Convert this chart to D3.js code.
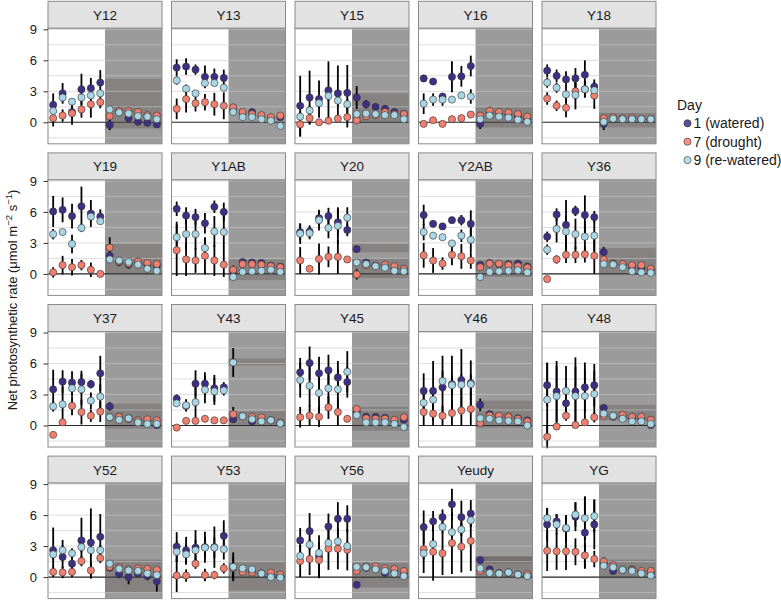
<!DOCTYPE html>
<html><head><meta charset="utf-8">
<script src="https://cdn.jsdelivr.net/npm/d3@7"></script>
<style>body{margin:0;background:#fff} svg{display:block} text{font-family:"Liberation Sans",Arial,Helvetica,sans-serif}</style>
</head><body><svg id="c" width="781" height="600"></svg>
<script>
const panelNames = ["Y12","Y13","Y15","Y16","Y18","Y19","Y1AB","Y20","Y2AB","Y36","Y37","Y43","Y45","Y46","Y48","Y52","Y53","Y56","Yeudy","YG"];
const dayLabels = ["1 (watered)","7 (drought)","9 (re-watered)"];
const dayColors = ["#3d2f83","#ef7f6f","#a9d6e5"];
const timePoints = [1,2,3,4,5,6,7,8,9,10,11,12];
const shadeStart = 6.5;
const yTicks = [0,3,6,9];
const yMinorTicks = [-1.5,1.5,4.5,7.5];

// Day 1 (watered) means, per panel
const day1 = [
 [1.7,2.8,1.0,3.2,3.3,3.85,-0.25,1.0,0.4,0.05,-0.05,-0.2],
 [5.3,5.4,5.1,4.4,4.4,4.3,1.2,0.9,1.0,0.6,0.4,0.5],
 [1.6,2.4,2.25,3.1,2.8,2.85,2.4,1.75,1.5,1.3,1.0,0.8],
 [4.25,3.95,2.5,4.4,4.45,5.45,-0.15,0.9,0.85,0.7,0.6,0.3],
 [5.0,4.5,4.15,4.25,4.6,3.45,-0.15,0.4,0.35,0.35,0.3,0.3],
 [6.05,6.2,5.6,6.55,5.85,5.55,1.75,1.15,0.9,1.0,0.9,0.8],
 [6.3,5.65,5.5,4.9,6.5,6.0,0.3,1.15,1.1,1.05,0.8,0.7],
 [4.05,4.1,5.4,5.6,5.0,4.25,2.4,1.1,0.8,0.7,0.5,0.4],
 [5.7,4.85,4.6,5.2,5.2,4.85,0.85,1.05,0.95,0.95,1.0,0.7],
 [3.6,5.75,4.75,6.1,5.7,5.5,2.1,1.0,0.9,0.7,0.6,0.4],
 [3.5,4.25,4.15,4.2,4.0,5.05,1.85,0.85,0.65,0.4,0.4,0.05],
 [2.6,1.9,4.05,4.05,3.6,3.7,0.6,0.9,0.4,0.6,0.5,0.25],
 [5.15,6.05,5.05,5.35,4.65,4.2,1.35,0.85,0.85,0.75,0.4,0.55],
 [3.35,3.35,3.7,4.0,4.4,4.1,2.0,1.1,0.9,0.85,0.7,0.5],
 [3.9,3.3,2.15,3.3,3.7,3.9,1.7,0.85,0.8,0.7,0.6,0.05],
 [2.6,1.95,1.3,3.55,3.35,3.9,0.9,0.3,0.0,0.35,0.1,-0.4],
 [2.95,2.6,2.85,2.9,2.9,4.0,0.9,0.7,0.6,0.35,0.2,0.1],
 [3.55,4.45,2.0,4.9,5.65,5.65,-0.75,0.9,0.8,0.4,0.5,0.3],
 [4.85,5.4,5.8,7.05,5.8,6.15,1.65,0.75,0.4,0.45,0.25,0.2],
 [5.1,5.4,4.7,5.85,4.3,5.1,1.3,0.6,0.7,0.75,0.5,0.4]
];
// Day 7 (drought) means
const day7 = [
 [0.4,0.65,0.87,1.25,1.75,1.95,0.6,1.1,1.1,1.0,0.7,0.65],
 [1.3,2.25,1.85,1.95,1.75,1.6,1.45,1.0,0.8,0.7,0.5,0.65],
 [-0.2,0.4,0.0,0.15,0.35,0.5,0.2,0.6,0.7,1.0,0.8,0.8],
 [-0.15,0.2,-0.15,0.3,0.4,0.75,0.65,1.1,1.0,0.95,0.8,0.55],
 [2.3,1.6,1.4,3.0,3.2,2.6,0.4,0.5,0.4,0.45,0.35,0.3],
 [0.15,0.85,0.65,0.85,0.4,0.0,2.55,1.2,1.0,1.2,1.05,0.95],
 [2.3,1.4,1.3,1.75,1.3,0.9,0.4,0.95,0.95,0.9,0.75,0.65],
 [1.3,0.5,1.45,1.65,1.65,1.4,-0.05,0.85,0.75,0.9,0.75,0.5],
 [1.8,1.3,1.0,1.85,1.7,1.3,0.65,1.0,1.0,0.85,0.75,0.6],
 [-0.5,1.4,1.85,1.85,1.9,1.75,1.4,1.0,0.95,0.85,0.85,0.5],
 [-0.9,0.3,1.9,1.3,0.95,1.35,0.8,0.85,0.7,0.5,0.6,0.5],
 [-0.2,0.45,0.45,0.65,0.5,0.5,1.1,0.9,0.85,0.8,0.5,0.3],
 [0.8,0.95,0.85,1.75,1.3,0.65,1.6,0.7,0.65,0.65,0.55,0.8],
 [1.3,1.15,0.95,1.2,1.45,1.6,0.25,0.95,0.95,0.85,0.65,0.4],
 [-1.1,-0.1,0.95,0.05,0.3,0.8,0.95,0.9,1.05,0.85,0.85,0.55],
 [0.5,0.45,0.5,1.55,0.65,1.85,1.0,0.95,0.75,0.85,0.8,0.7],
 [0.15,0.15,1.3,0.2,0.2,0.85,0.9,0.5,0.45,0.35,0.45,0.25],
 [1.55,1.75,1.65,2.75,2.75,2.65,0.6,1.05,1.05,0.85,0.8,0.6],
 [2.7,2.45,2.3,3.3,2.95,3.5,0.6,0.45,0.35,0.45,0.25,0.3],
 [2.55,2.5,2.5,2.45,2.1,1.75,1.5,1.15,0.7,0.7,0.6,0.6]
];
// Day 9 (re-watered) means
const day9 = [
 [1.1,2.4,2.0,2.4,2.6,2.8,1.25,0.95,0.85,0.6,0.55,0.3],
 [4.05,3.25,2.8,3.8,3.8,3.35,1.0,0.5,0.5,0.3,0.15,-0.35],
 [0.55,1.15,1.85,2.55,2.1,1.75,0.8,0.85,0.8,0.7,0.7,0.3],
 [1.8,2.2,2.2,2.2,2.6,2.5,0.3,0.65,0.55,0.45,0.25,0.05],
 [3.85,3.35,2.7,2.65,3.2,3.1,0.05,0.35,0.3,0.3,0.3,0.3],
 [3.85,4.05,2.9,4.45,5.55,5.1,1.4,1.3,1.15,0.9,0.5,0.3],
 [3.55,3.85,3.85,2.5,4.1,4.05,-0.3,0.2,0.25,0.3,0.4,0.2],
 [3.9,3.95,5.2,4.45,4.65,5.45,1.1,0.95,0.75,0.6,0.3,0.25],
 [4.05,3.7,3.55,2.95,3.7,3.3,-0.3,0.2,0.25,0.3,0.35,0.15],
 [2.35,4.35,4.1,3.85,3.6,3.7,0.95,0.9,0.65,0.25,0.15,0.1],
 [1.85,2.05,3.6,3.5,2.4,2.8,0.8,0.55,0.7,0.3,0.15,0.15],
 [2.15,1.95,2.25,3.45,3.3,3.4,6.1,0.9,0.6,0.4,0.5,0.2],
 [4.4,3.85,3.15,3.6,3.5,5.2,1.0,0.3,0.3,0.3,0.15,-0.15],
 [2.2,2.5,4.3,3.9,3.95,4.0,0.7,0.65,0.5,0.45,0.4,0.0],
 [2.5,2.85,3.35,2.85,2.85,3.05,1.15,0.95,0.65,0.4,0.4,0.15],
 [2.2,2.6,2.3,2.9,2.6,2.6,1.3,0.8,0.65,0.6,0.35,0.2],
 [2.45,2.2,2.6,2.85,2.85,2.7,1.0,0.85,0.75,0.35,0.0,-0.05],
 [2.05,3.15,2.35,3.3,3.45,3.0,1.0,0.95,0.75,0.6,0.35,0.1],
 [2.3,3.2,4.85,4.35,4.6,5.5,0.85,0.4,0.35,0.45,0.25,0.1],
 [5.7,5.1,4.75,6.05,5.7,5.9,1.1,0.95,0.7,0.6,0.35,0.15]
];
// error half-widths
const err1 = [
 [1.1,1.0,0.6,1.5,1.0,1.2,0.5,0.3,0.3,0.3,0.3,0.3],
 [0.8,0.8,0.5,1.1,0.8,0.8,0.4,0.3,0.3,0.3,0.2,0.3],
 [2.9,2.6,1.8,2.8,2.7,2.7,1.1,0.4,0.3,0.3,0.2,0.2],
 [0.3,0.3,0.3,1.5,1.0,1.0,0.5,0.4,0.4,0.2,0.2,0.2],
 [0.6,0.6,0.8,1.0,1.4,0.7,0.6,0.2,0.2,0.2,0.2,0.2],
 [1.5,1.2,1.2,1.9,1.3,0.7,0.3,0.4,0.4,0.3,0.3,0.3],
 [0.7,0.8,0.8,1.0,0.6,0.9,0.3,0.3,0.3,0.3,0.2,0.3],
 [0.8,0.6,0.7,0.8,1.3,0.6,0.3,0.2,0.2,0.2,0.2,0.2],
 [1.0,0.3,0.3,0.3,0.5,1.3,0.2,0.2,0.2,0.2,0.2,0.2],
 [0.5,0.6,2.4,0.5,1.9,0.6,0.5,0.2,0.2,0.2,0.2,0.2],
 [1.9,1.1,1.1,1.1,0.4,1.7,0.4,0.3,0.2,0.2,0.2,0.2],
 [0.4,0.3,1.3,1.1,1.3,0.5,0.3,0.3,0.2,0.2,0.2,0.2],
 [1.4,1.6,1.6,1.5,1.6,1.5,0.3,0.3,0.2,0.2,0.2,0.3],
 [1.7,2.9,3.05,2.75,3.0,2.2,0.6,0.2,0.2,0.2,0.2,0.2],
 [2.1,2.95,1.0,3.3,2.4,2.05,0.3,0.2,0.2,0.2,0.2,0.2],
 [2.2,1.1,0.8,2.2,3.3,2.2,0.3,0.4,0.7,0.3,0.4,1.0],
 [1.4,1.3,1.7,1.5,2.0,1.5,0.3,0.2,0.2,0.2,0.2,0.2],
 [1.2,1.75,2.05,1.25,1.6,1.3,0.3,0.2,0.2,0.2,0.2,0.2],
 [1.6,1.0,0.75,1.5,1.6,1.3,0.3,0.3,0.2,0.2,0.2,0.2],
 [1.6,0.7,1.3,1.4,3.5,2.4,0.4,0.2,0.2,0.2,0.2,0.2]
];
const err7 = [
 [0.8,0.6,1.1,0.8,1.3,0.6,0.3,0.3,0.3,0.2,0.3,0.2],
 [1.0,1.3,0.8,0.8,1.1,1.3,0.3,0.2,0.2,0.2,0.2,0.2],
 [1.2,0.6,0.3,0.3,0.3,1.0,0.3,0.3,0.2,0.2,0.2,0.2],
 [0.2,0.2,0.2,0.2,0.2,0.2,0.2,0.4,0.3,0.2,0.2,0.2],
 [0.6,0.5,0.9,0.8,0.8,1.3,0.2,0.1,0.1,0.1,0.1,0.1],
 [0.5,0.9,0.8,0.5,0.7,0.2,1.0,0.3,0.3,0.2,0.2,0.2],
 [2.5,1.6,1.2,1.8,1.5,1.2,0.4,0.2,0.2,0.2,0.2,0.2],
 [1.3,0.3,1.5,1.0,1.65,0.3,0.5,0.2,0.2,0.2,0.2,0.2],
 [1.2,1.2,0.6,1.0,1.2,0.8,0.2,0.2,0.2,0.2,0.2,0.2],
 [0.2,0.4,0.8,0.8,0.8,1.75,0.4,0.2,0.2,0.2,0.2,0.2],
 [0.2,0.3,0.9,1.2,0.6,1.0,0.3,0.2,0.2,0.2,0.2,0.2],
 [0.3,0.3,0.3,0.3,0.3,0.3,0.7,0.2,0.2,0.2,0.2,0.2],
 [1.0,1.0,1.0,1.1,1.3,0.3,0.3,0.2,0.2,0.2,0.2,0.2],
 [1.3,1.15,0.95,1.2,1.45,1.6,0.3,0.2,0.2,0.2,0.2,0.2],
 [1.1,0.1,0.5,0.2,0.3,0.5,0.3,0.2,0.2,0.2,0.2,0.2],
 [0.5,0.55,0.5,0.5,0.8,0.5,0.3,0.3,0.3,0.2,0.2,0.2],
 [1.6,0.6,0.5,0.6,0.4,0.5,1.1,0.2,0.2,0.2,0.2,0.2],
 [1.55,1.55,1.75,2.05,2.0,2.0,0.3,0.2,0.2,0.2,0.2,0.2],
 [2.3,2.8,2.1,3.0,2.5,2.9,0.3,0.2,0.2,0.2,0.2,0.2],
 [1.95,1.8,1.8,1.3,1.2,0.8,0.4,0.2,0.2,0.2,0.2,0.2]
];
const err9 = [
 [0.4,0.3,0.3,0.3,0.3,0.3,0.2,0.2,0.2,0.2,0.2,0.2],
 [0.4,0.4,0.3,0.3,0.3,0.3,0.2,0.2,0.2,0.2,0.2,0.2],
 [0.5,0.5,0.5,0.5,0.5,0.5,0.3,0.2,0.2,0.2,0.2,0.2],
 [1.0,0.6,0.6,0.3,0.3,0.7,0.2,0.2,0.2,0.2,0.2,0.2],
 [0.5,0.5,0.7,1.4,0.8,0.6,0.2,0.1,0.1,0.1,0.1,0.1],
 [0.5,0.3,0.9,0.4,0.4,0.3,0.3,0.2,0.2,0.2,0.2,0.2],
 [1.5,1.5,1.5,1.0,1.5,2.0,0.3,0.2,0.2,0.2,0.2,0.2],
 [1.0,0.6,1.0,1.0,1.8,1.0,0.3,0.2,0.2,0.2,0.2,0.2],
 [0.8,0.3,0.3,0.3,0.6,1.2,0.2,0.2,0.2,0.2,0.2,0.2],
 [0.5,1.3,1.5,1.5,1.5,1.5,0.2,0.2,0.2,0.2,0.2,0.2],
 [0.5,1.7,0.8,1.5,0.8,1.2,0.2,0.2,0.2,0.2,0.2,0.2],
 [0.3,0.6,1.5,1.3,1.3,0.5,1.4,0.2,0.2,0.2,0.2,0.2],
 [1.7,2.0,2.0,2.0,2.0,2.0,0.3,0.2,0.2,0.2,0.2,0.2],
 [1.0,1.0,1.0,1.0,1.0,1.0,0.2,0.2,0.2,0.2,0.2,0.2],
 [3.6,2.95,2.4,2.85,2.55,2.25,0.2,0.2,0.2,0.2,0.2,0.2],
 [0.5,1.0,0.5,0.5,0.5,0.5,0.3,0.2,0.2,0.2,0.2,0.2],
 [1.0,1.0,1.0,1.0,1.0,1.0,1.4,0.2,0.2,0.2,0.2,0.2],
 [0.5,0.5,0.5,0.5,0.5,0.5,0.2,0.2,0.2,0.2,0.2,0.2],
 [0.6,0.6,0.6,0.6,0.6,0.6,0.3,0.2,0.2,0.2,0.2,0.2],
 [1.0,1.0,1.25,1.2,2.1,1.6,0.3,0.2,0.2,0.2,0.2,0.2]
];
// darker horizontal bands inside the shaded period [low, high]
const bands = [
 [[-0.6,4.2]], [], [[0,2.8]], [[-0.5,1.5]], [[-0.5,0.9]],
 [[0,2.9]], [[-0.6,1.4]], [[2.1,2.9],[-0.4,1.5]], [[-0.3,1.3]], [[0,2.5]],
 [[-0.3,2.1]], [[5.8,6.5],[0,1.4]], [[-0.5,1.8]], [[-0.2,2.4]], [[0.5,2.0]],
 [[-1.5,1.7]], [[-1.3,1.5]], [[-1.0,1.4]], [[-0.1,2.0],[1.35,2.0]], [[-0.1,1.7]]
];

const means = [day1, day7, day9];
const errs = [err1, err7, err9];

const svg = d3.select("#c");
const pw = 114, ph = 115.5, colStep = 123.5, rowStep = 151.6, left0 = 48, top0 = 28.3, stripH = 27;
const x = d3.scaleLinear().domain([0.45, 12.55]).range([0, pw]);
const y = d3.scaleLinear().domain([-2.08, 9.1]).range([ph, 0]);
const borderCol = "#8a8a8a";

panelNames.forEach((name, i) => {
  const c = i % 5, r = Math.floor(i / 5);
  const g = svg.append("g").attr("transform", `translate(${left0 + c * colStep},${top0 + r * rowStep})`);
  // strip
  g.append("rect").attr("x", 0).attr("y", -stripH).attr("width", pw).attr("height", stripH)
    .attr("fill", "#e2e2e2").attr("stroke", borderCol).attr("stroke-width", 1);
  g.append("text").attr("x", pw / 2).attr("y", -stripH / 2 + 5).attr("text-anchor", "middle")
    .attr("font-size", 13.5).attr("fill", "#1a1a1a").text(name);
  // panel bg
  g.append("rect").attr("width", pw).attr("height", ph).attr("fill", "#fff");
  // shaded period
  const xs = x(shadeStart);
  g.append("rect").attr("x", xs).attr("y", 0).attr("width", pw - xs).attr("height", ph).attr("fill", "#9b9b9b");
  bands[i].forEach(b => {
    g.append("rect").attr("x", xs).attr("y", y(b[1])).attr("width", pw - xs).attr("height", y(b[0]) - y(b[1]))
      .attr("fill", "#3c2828").attr("fill-opacity", 0.22);
  });
  // grid
  g.selectAll("line.grid").data(yTicks.concat(yMinorTicks)).enter().append("line")
    .attr("x1", 0).attr("x2", pw).attr("y1", d => y(d)).attr("y2", d => y(d))
    .attr("stroke", "rgb(200,200,200)").attr("stroke-opacity", 0.6).attr("stroke-width", 1);
  // zero line
  g.append("line").attr("x1", 0).attr("x2", pw).attr("y1", y(0)).attr("y2", y(0))
    .attr("stroke", "#2a2a2a").attr("stroke-width", 1.1);
  // error bars
  means.forEach((m, s) => {
    g.selectAll(null).data(timePoints).enter().append("line")
      .attr("x1", d => x(d)).attr("x2", d => x(d))
      .attr("y1", (d, k) => y(m[i][k] - errs[s][i][k]))
      .attr("y2", (d, k) => y(m[i][k] + errs[s][i][k]))
      .attr("stroke", "#000").attr("stroke-width", 1.8);
  });
  // points
  means.forEach((m, s) => {
    g.selectAll(null).data(timePoints).enter().append("circle")
      .attr("cx", d => x(d)).attr("cy", (d, k) => y(m[i][k])).attr("r", 3.6)
      .attr("fill", dayColors[s]).attr("stroke", "#333").attr("stroke-width", 0.6);
  });
  // border
  g.append("rect").attr("width", pw).attr("height", ph).attr("fill", "none")
    .attr("stroke", borderCol).attr("stroke-width", 1);
  if (c === 0) {
    const ax = g.append("g").call(d3.axisLeft(y).tickValues(yTicks).tickSize(4.5).tickPadding(6.5));
    ax.select(".domain").remove();
    ax.selectAll(".tick line").attr("stroke", "#333");
    ax.selectAll(".tick text").attr("font-size", 13).attr("fill", "#1a1a1a")
      .attr("font-family", '"Liberation Sans",Arial,sans-serif');
  }
});

// y-axis title
const title = svg.append("text").attr("transform", "translate(17,300) rotate(-90)")
  .attr("text-anchor", "middle").attr("font-size", 13).attr("fill", "#1a1a1a");
title.append("tspan").text("Net photosynthetic rate (μmol m");
title.append("tspan").attr("dy", -5).attr("font-size", 9.5).text("−2");
title.append("tspan").attr("dy", 5).text(" s");
title.append("tspan").attr("dy", -5).attr("font-size", 9.5).text("−1");
title.append("tspan").attr("dy", 5).text(")");

// legend
const lg = svg.append("g").attr("transform", "translate(677,0)");
lg.append("text").attr("x", 0).attr("y", 110).attr("font-size", 14).attr("fill", "#1a1a1a").text("Day");
dayLabels.forEach((lab, s) => {
  const yy = 123.3 + s * 18.4;
  lg.append("circle").attr("cx", 10.5).attr("cy", yy).attr("r", 3.6)
    .attr("fill", dayColors[s]).attr("fill-opacity", 0.85).attr("stroke", "#333").attr("stroke-width", 0.6);
  lg.append("text").attr("x", 16.5).attr("y", yy + 5).attr("font-size", 14).attr("fill", "#1a1a1a").text(lab);
});
</script></body></html>
